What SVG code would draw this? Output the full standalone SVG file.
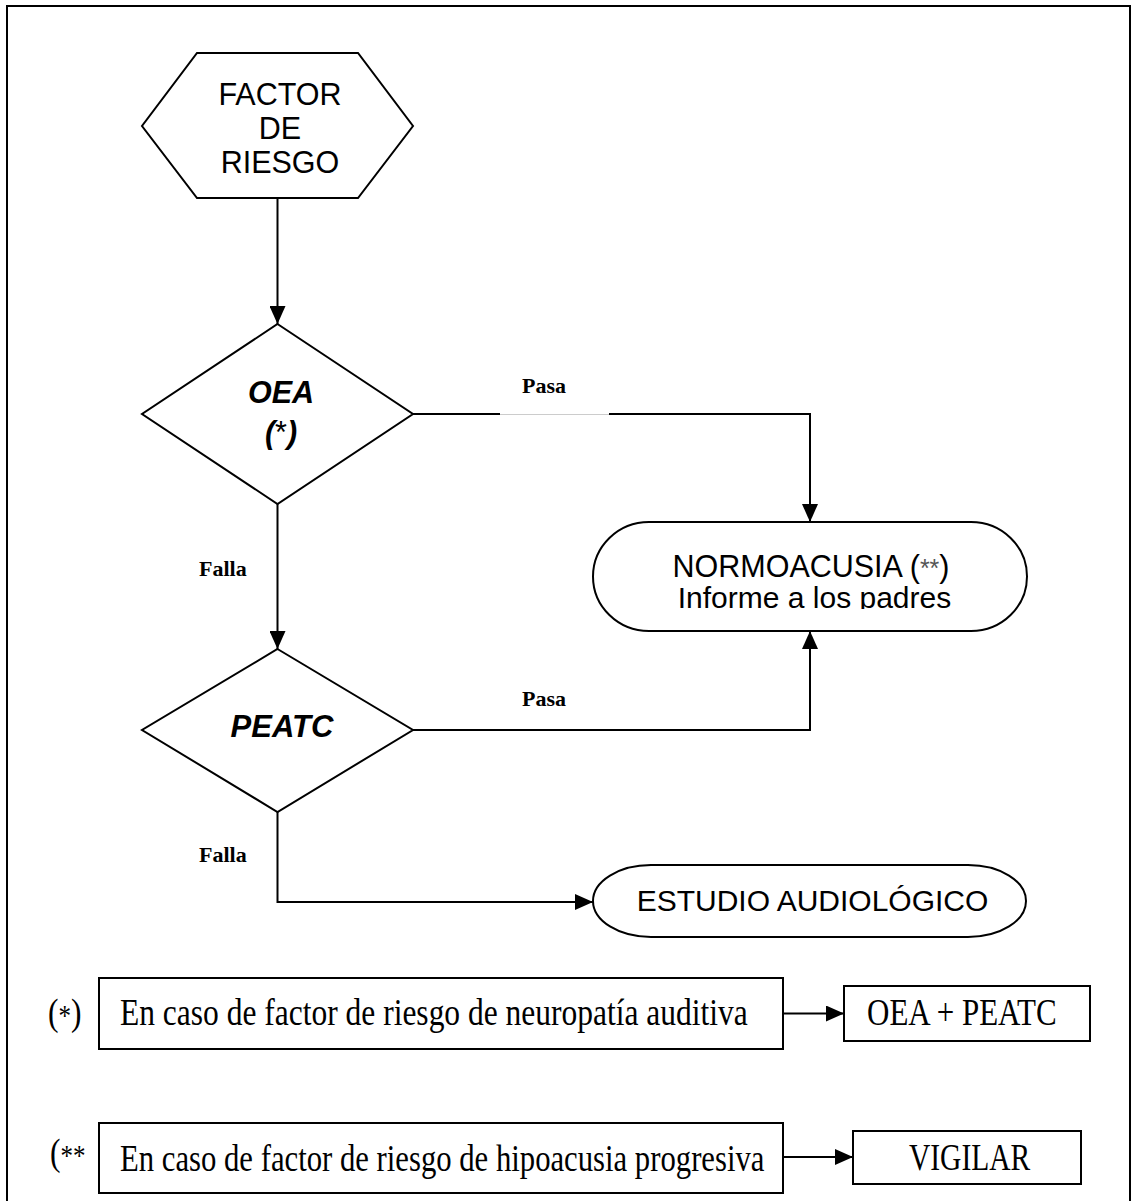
<svg xmlns="http://www.w3.org/2000/svg" width="1131" height="1201" viewBox="0 0 1131 1201">
<style>
.shape{fill:#fff;stroke:#000;stroke-width:2}
.ln{fill:none;stroke:#000;stroke-width:2}
.sans{font-family:"Liberation Sans",Arial,sans-serif;fill:#000}
.bi{font-family:"Liberation Sans",Arial,sans-serif;font-weight:bold;font-style:italic;fill:#000}
.lbl{font-family:"Liberation Serif","Times New Roman",serif;font-weight:bold;font-size:22px;fill:#000}
.ser{font-family:"Liberation Serif","Times New Roman",serif;fill:#000}
</style>
<defs>
<marker id="ah" markerUnits="userSpaceOnUse" markerWidth="18" markerHeight="16" refX="18" refY="8" orient="auto">
<path d="M0,0 L18,8 L0,16 Z" fill="#000"/>
</marker>
<clipPath id="clipN"><rect x="590" y="520" width="440" height="89"/></clipPath>
</defs>
<rect width="1131" height="1201" fill="#fff"/>
<path d="M7,1201 V6 H1130 V1201" fill="none" stroke="#000" stroke-width="2"/>

<g id="factor">
<polygon class="shape" points="197,53 358,53 413,126 358,198 197,198 142,126"/>
<text class="sans" font-size="30.5" text-anchor="middle" x="280" y="105">FACTOR</text>
<text class="sans" font-size="30.5" text-anchor="middle" x="280" y="139">DE</text>
<text class="sans" font-size="30.5" text-anchor="middle" x="280" y="173">RIESGO</text>
</g>

<g id="oea">
<polygon class="shape" points="277.5,324 413,414 277.5,504 142,414"/>
<text class="bi" font-size="30.5" text-anchor="middle" x="281" y="403">OEA</text>
<text class="bi" font-size="30.5" text-anchor="middle" x="281" y="443">(<tspan font-style="normal" font-weight="normal">*</tspan>)</text>
</g>

<g id="peatc">
<polygon class="shape" points="277.5,649 413,730 277.5,812 142,730"/>
<text class="bi" font-size="31" text-anchor="middle" x="282" y="737">PEATC</text>
</g>

<g id="normoacusia">
<rect class="shape" x="593" y="522" width="434" height="109" rx="56" ry="54.5"/>
<text class="sans" font-size="30.5" text-anchor="middle" x="811" y="577">NORMOACUSIA (<tspan fill="#555" font-size="25">**</tspan>)</text>
<g clip-path="url(#clipN)">
<text class="sans" font-size="30" text-anchor="middle" x="814.5" y="608">Informe a los padres</text>
</g>
</g>

<g id="estudio">
<rect class="shape" x="593" y="865" width="433" height="72" rx="58" ry="36"/>
<text class="sans" font-size="30" text-anchor="middle" x="812.5" y="911">ESTUDIO AUDIOLÓGICO</text>
</g>

<g id="nota1">
<text class="ser" font-size="31.5" transform="translate(48,1025) scale(1,1.22)">(<tspan font-size="25">*</tspan>)</text>
<rect class="shape" x="99" y="978" width="684" height="71"/>
<text class="ser" font-size="31.5" transform="translate(120,1025) scale(1,1.22)">En caso de factor de riesgo de neuropatía auditiva</text>
</g>
<g id="oeapeatc">
<rect class="shape" x="844" y="986" width="246" height="55"/>
<text class="ser" font-size="31" transform="translate(867,1025) scale(1,1.24)">OEA + PEATC</text>
</g>

<g id="nota2">
<text class="ser" font-size="31.5" transform="translate(50,1165) scale(1,1.22)">(<tspan font-size="25">**</tspan></text>
<rect class="shape" x="99" y="1123" width="684" height="70"/>
<text class="ser" font-size="30.7" transform="translate(120,1171) scale(1,1.25)">En caso de factor de riesgo de hipoacusia progresiva</text>
</g>
<g id="vigilar">
<rect class="shape" x="853" y="1131" width="228" height="53"/>
<text class="ser" font-size="29.5" transform="translate(909,1170) scale(1,1.3)">VIGILAR</text>
</g>

<g id="connectors">
<line class="ln" x1="277.5" y1="198" x2="277.5" y2="324" marker-end="url(#ah)"/>
<line class="ln" x1="413" y1="414" x2="500" y2="414"/>
<line x1="500" y1="414.5" x2="609" y2="414.5" stroke="#ccc" stroke-width="1"/>
<polyline class="ln" points="609,414 810,414 810,522" marker-end="url(#ah)"/>
<line class="ln" x1="277.5" y1="504" x2="277.5" y2="649" marker-end="url(#ah)"/>
<polyline class="ln" points="413,730 810,730 810,631" marker-end="url(#ah)"/>
<polyline class="ln" points="277.5,812 277.5,902 593,902" marker-end="url(#ah)"/>
<line class="ln" x1="783" y1="1013.5" x2="844" y2="1013.5" marker-end="url(#ah)"/>
<line class="ln" x1="783" y1="1157" x2="853" y2="1157" marker-end="url(#ah)"/>
<text class="lbl" x="522" y="393">Pasa</text>
<text class="lbl" x="199" y="576">Falla</text>
<text class="lbl" x="522" y="706">Pasa</text>
<text class="lbl" x="199" y="862">Falla</text>
</g>
</svg>
